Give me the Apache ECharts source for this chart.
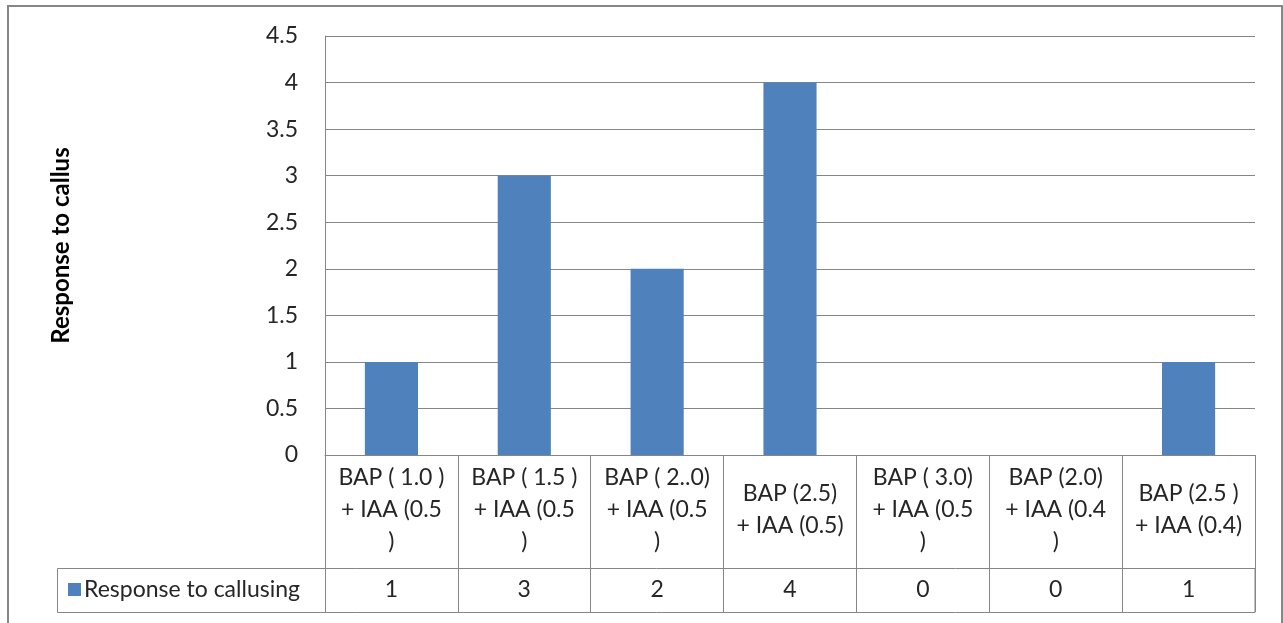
<!DOCTYPE html>
<html>
<head>
<meta charset="utf-8">
<script src="https://cdn.jsdelivr.net/npm/echarts@6/dist/echarts.min.js"></script>
<style>
  html, body { margin: 0; padding: 0; background: #fff; }
  #chart { width: 1283px; height: 623px; }
</style>
</head>
<body>
<div id="chart"></div>
<script>
// Treatment combinations (mg/l), wrapped as in the data table cells
const categories = [
  'BAP ( 1.0 )\n+ IAA (0.5\n)',
  'BAP ( 1.5 )\n+ IAA (0.5\n)',
  'BAP ( 2..0)\n+ IAA (0.5\n)',
  'BAP (2.5)\n+ IAA (0.5)',
  'BAP ( 3.0)\n+ IAA (0.5\n)',
  'BAP (2.0)\n+ IAA (0.4\n)',
  'BAP (2.5 )\n+ IAA (0.4)'
];
const seriesName = 'Response to callusing';
const responseValues = [1, 3, 2, 4, 0, 0, 1];
const yTicks = { min: 0, max: 4.5, interval: 0.5 };

const FONT = 'Lato, "Open Sans", sans-serif';
const FS = 23;
const TEXT = '#262626';
const LINE = '#868686';

const chart = echarts.init(document.getElementById('chart'), null, { renderer: 'canvas' });

chart.setOption({
  animation: false,
  backgroundColor: '#fff',
  textStyle: { fontFamily: FONT },
  grid: { left: 325, right: 28, top: 36, bottom: 168, containLabel: false },
  legend: {
    left: 63, top: 573,
    icon: 'rect', itemWidth: 13, itemHeight: 13, itemGap: 0,
    textStyle: { fontFamily: FONT, fontSize: FS, color: TEXT, padding: [0, 0, 0, -2] },
    data: [seriesName]
  },
  xAxis: [
    {
      type: 'category',
      data: categories,
      boundaryGap: true,
      axisLine: { show: true, lineStyle: { color: LINE, width: 1 } },
      axisTick: { show: true, alignWithLabel: false, length: 157, lineStyle: { color: LINE, width: 1 } },
      axisLabel: {
        interval: 0, margin: 55, verticalAlign: 'middle', align: 'center',
        fontFamily: FONT, fontSize: FS, color: TEXT, lineHeight: 32
      },
      splitLine: { show: false }
    },
    {
      type: 'category',
      data: responseValues.map(String),
      position: 'bottom',
      boundaryGap: true,
      axisLine: { show: false },
      axisTick: { show: false },
      axisLabel: {
        interval: 0, margin: 135, verticalAlign: 'middle', align: 'center',
        fontFamily: FONT, fontSize: FS, color: TEXT
      },
      splitLine: { show: false }
    }
  ],
  yAxis: {
    type: 'value',
    min: yTicks.min, max: yTicks.max, interval: yTicks.interval,
    name: 'Response to callus',
    nameLocation: 'middle',
    nameGap: 252,
    nameRotate: 90,
    nameTextStyle: { fontFamily: FONT, fontSize: 24, fontWeight: 'bold', color: '#000' },
    axisLine: { show: true, lineStyle: { color: LINE, width: 1 } },
    axisTick: { show: false },
    axisLabel: { margin: 27, fontFamily: FONT, fontSize: FS, color: TEXT },
    splitLine: { show: true, lineStyle: { color: LINE, width: 1 } }
  },
  graphic: [
    // outer chart frame
    { type: 'rect', shape: { x: 8, y: 6, width: 1274, height: 660 },
      style: { fill: null, stroke: LINE, lineWidth: 2 }, silent: true },
    // data table: series row and left continuation of the axis column
    { type: 'rect', shape: { x: 57.5, y: 568.5, width: 1197.5, height: 44 },
      style: { fill: null, stroke: LINE, lineWidth: 1 }, silent: true },
    { type: 'line', shape: { x1: 325.5, y1: 36, x2: 325.5, y2: 612.5 },
      style: { stroke: LINE, lineWidth: 1 }, silent: true }
  ],
  series: [
    {
      name: seriesName,
      type: 'bar',
      data: responseValues,
      barWidth: '40%',
      itemStyle: { color: '#4F81BD' }
    }
  ]
});
</script>
</body>
</html>
